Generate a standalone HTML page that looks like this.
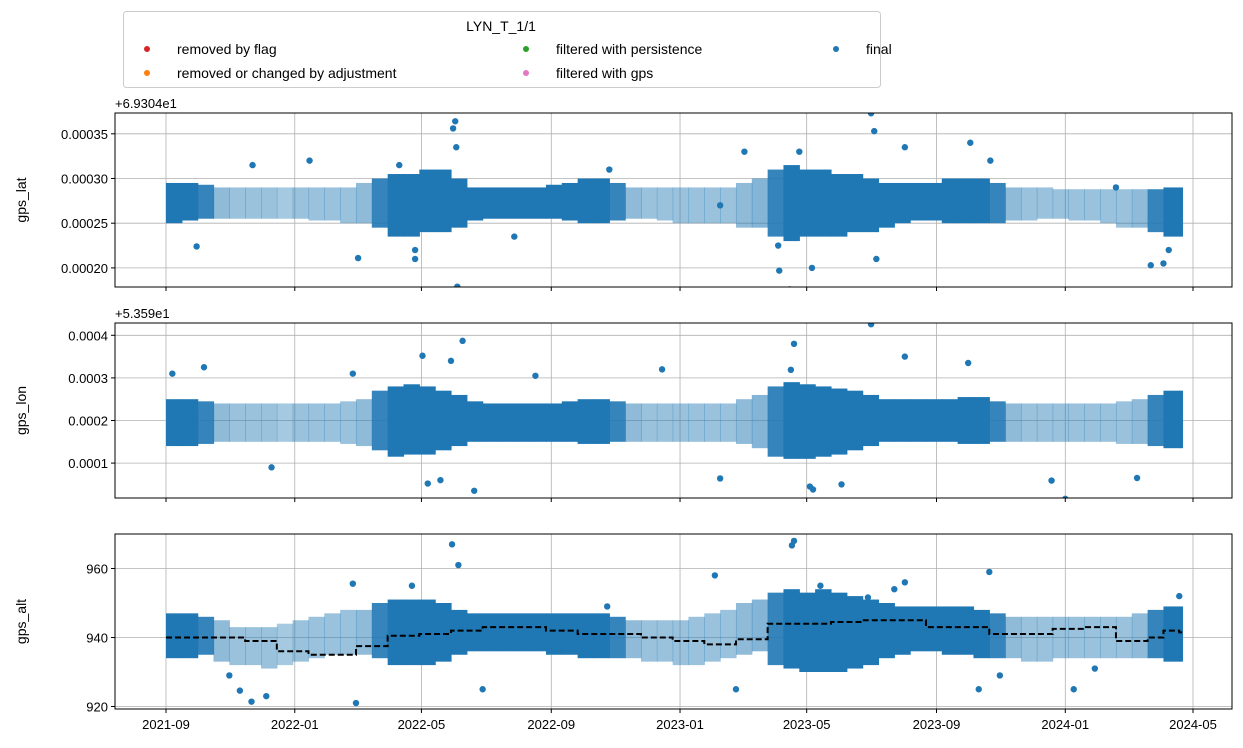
<!DOCTYPE html>
<html><head><meta charset="utf-8"><style>
body{margin:0;background:#fff;}
svg{display:block;font-family:"Liberation Sans","DejaVu Sans",sans-serif;}
</style></head><body>
<svg id="chart" width="1243" height="748" viewBox="0 0 1243 748" xmlns="http://www.w3.org/2000/svg">
<g id="legend">
<rect x="123.5" y="11.5" width="757" height="76" rx="3" fill="#fff" stroke="#ccc"/>
<text x="501" y="31" font-size="14" text-anchor="middle">LYN_T_1/1</text>
<g><circle cx="147" cy="49" r="3" fill="#d62728"/><text x="177" y="54" font-size="14">removed by flag</text></g>
<g><circle cx="147" cy="73" r="3" fill="#ff7f0e"/><text x="177" y="78" font-size="14">removed or changed by adjustment</text></g>
<g><circle cx="526" cy="49" r="3" fill="#2ca02c"/><text x="556" y="54" font-size="14">filtered with persistence</text></g>
<g><circle cx="526" cy="73" r="3" fill="#e377c2"/><text x="556" y="78" font-size="14">filtered with gps</text></g>
<g><circle cx="836" cy="49" r="3" fill="#1f77b4"/><text x="866" y="54" font-size="14">final</text></g>
</g>
</svg>
<script>
// ---- data ----
const tickLabels = ["2021-09","2022-01","2022-05","2022-09","2023-01","2023-05","2023-09","2024-01","2024-05"];
const tickDays = [0,122,242,365,487,607,730,852,973];
// 15-day bins starting 2021-09-01
const binDensity = [1,1,0.9,0.5,0.45,0.45,0.45,0.4,0.45,0.45,0.45,0.45,0.5,0.9,1,1,1,1,1,1,1,1,1,1,1,1,1,1,0.9,0.5,0.45,0.45,0.45,0.45,0.45,0.45,0.5,0.55,0.9,1,1,1,1,1,1,1,1,1,1,1,1,1,0.9,0.5,0.45,0.45,0.45,0.45,0.45,0.45,0.45,0.5,0.9,1,1];
const latLo = [25,25.3,25.5,25.5,25.5,25.5,25.5,25.5,25.5,25.3,25.3,25,25,24.5,23.5,23.5,24,24,24.5,25.3,25.5,25.5,25.5,25.5,25.5,25.3,25,25,25.3,25.5,25.5,25.3,25,25,25,25,24.5,24.5,23.5,23,23.5,23.5,23.5,24,24,24.5,25,25.3,25.3,25,25,25,25,25.3,25.3,25.5,25.5,25.3,25.3,25,24.5,24.5,24,23.5,23.5];
const latHi = [29.5,29.5,29.3,29,29,29,29,29,29,29,29,29,29.5,30,30.5,30.5,31,31,30,29,29,29,29,29,29.3,29.5,30,30,29.5,29,29,29,29,29,29,29,29.5,30,31,31.5,31,31,30.5,30.5,30,29.5,29.5,29.5,29.5,30,30,30,29.5,29,29,29,28.8,28.8,28.8,28.8,28.8,28.8,28.8,29,29];
const lonLo = [14,14,14.5,15,15,15,15,15,15,15,15,14.5,14,13,11.5,12,12,13,14,15,15,15,15,15,15,15,14.5,14.5,15,15,15,15,15,15,15,15,14.5,13.5,11.5,11,11,11.5,12,13,14,15,15,15,15,15,14.5,14.5,15,15,15,15,15,15,15,15,14.5,14.5,14,13.5,13.5];
const lonHi = [25,25,24.5,24,24,24,24,24,24,24,24,24.5,25,27,28,28.5,28,27,26,24.5,24,24,24,24,24,24.5,25,25,24.5,24,24,24,24,24,24,24,25,26,28,29,28.5,28,27.5,27,26,25,25,25,25,25,25.5,25.5,24.5,24,24,24,24,24,24,24,24.5,25,26,27,27];
const altLo = [934,934,935,933,932,932,931,932,933,934,935,935,935,934,932,932,932,933,935,936,936,936,936,936,935,935,934,934,934,934,933,933,932,932,933,934,935,936,932,931,930,930,930,931,932,934,935,936,936,935,935,934,934,934,933,933,934,934,934,934,934,934,934,933,933];
const altHi = [947,947,946,945,943,943,943,944,945,946,947,948,948,950,951,951,951,950,948,947,947,947,947,947,947,947,947,947,946,945,945,945,945,946,947,948,950,951,953,954,953,954,953,952,951,950,949,949,949,949,949,948,947,946,946,946,946,946,946,946,946,947,948,949,949];
const altMedian = [940,940,940,940,940,939,939,936,936,935,935,935,937.5,937.5,940.5,940.5,941,941,942,942,943,943,943,943,942,942,941,941,941,941,940,940,939,939,938,938,939.5,939.5,944,944,944,944,944.5,944.5,945,945,945,945,943,943,943,943,941,941,941,941,942.5,942.5,943,943,939,939,940,942,941.5];
const latOutDays = [29,182,274,272,275,276,236,136,525,580,581,591,668,671,762,781,933,673,221,236,600,612,700,900,945,950,82,330,420,548];
const latOutVals = [22.4,21.1,36.4,35.6,33.5,17.9,21,32,27,22.5,19.7,17.6,37.3,35.3,34,32,20.3,21,31.5,22,33,20,33.5,29,20.5,22,31.5,23.5,31,33];
const lonOutDays = [243,281,292,595,592,668,852,613,248,36,6,839,177,525,270,260,610,700,760,920,470,100,350,640];
const lonOutVals = [35.2,38.7,3.5,38,31.9,42.6,1.6,3.8,5.2,32.5,31,5.9,31,6.4,34,6,4.5,35,33.5,6.5,32,9,30.5,5];
const altOutDays = [271,277,595,593,81,95,177,70,665,620,690,700,520,540,233,300,418,780,790,880,860,770,60,180,960];
const altOutVals = [967,961,968,966.7,921.4,923,955.6,924.6,951.6,955,954,956,958,925,955,925,949,959,929,931,925,925,929,921,952];
// ---- layout ----
const X0 = 166, XPD = 1027/973, BIN = 15;
const xs = d => X0 + d*XPD;
const panels = [
 {name:"gps-lat", label:"gps_lat", offset:"+6.9304e1", top:113, bot:287, yv0:30, yp0:178.5, ppu:44.7/5,
  ticks:[20,25,30,35], tlabel:["0.00020","0.00025","0.00030","0.00035"], lo:latLo, hi:latHi, od:latOutDays, ov:latOutVals, xlab:false},
 {name:"gps-lon", label:"gps_lon", offset:"+5.359e1", top:323, bot:498, yv0:20, yp0:420.5, ppu:42.6/10,
  ticks:[10,20,30,40], tlabel:["0.0001","0.0002","0.0003","0.0004"], lo:lonLo, hi:lonHi, od:lonOutDays, ov:lonOutVals, xlab:false},
 {name:"gps-alt", label:"gps_alt", offset:null, top:534, bot:709, yv0:940, yp0:637.5, ppu:69/20,
  ticks:[920,940,960], tlabel:["920","940","960"], lo:altLo, hi:altHi, od:altOutDays, ov:altOutVals, xlab:true, med:altMedian}
];
const NS="http://www.w3.org/2000/svg";
const svg=document.getElementById('chart');
function mk(tag, attrs, parent){const e=document.createElementNS(NS,tag);for(const k in attrs)e.setAttribute(k,attrs[k]);(parent||svg).appendChild(e);return e;}
const L=115, R=1232, C="#1f77b4";
panels.forEach(p=>{
 const ys = v => p.yp0 - (v-p.yv0)*p.ppu;
 const g=mk('g',{});
 
 
 const cid='clip-'+p.name;
 const cp=mk('clipPath',{id:cid},g); mk('rect',{x:L,y:p.top,width:R-L,height:p.bot-p.top},cp);
 tickDays.forEach(d=>{const l=mk('line',{x1:xs(d),x2:xs(d),y1:p.top,y2:p.bot,stroke:"#b0b0b0","stroke-width":0.8},g);
  });
 p.ticks.forEach((t,i)=>{const y=ys(t);
  const l=mk('line',{x1:L,x2:R,y1:y,y2:y,stroke:"#b0b0b0","stroke-width":0.8},g);
  
  mk('line',{x1:L-4,x2:L,y1:y,y2:y,stroke:"#000"},g);
  const t2=mk('text',{x:L-7,y:y+5,'font-size':13,'text-anchor':'end'},g); t2.textContent=p.tlabel[i];
  
 });
 const dg=mk('g',{'clip-path':'url(#'+cid+')'},g);
 
 
 p.lo.forEach((lo,i)=>{
  const d0=i*BIN, d1=Math.min(963,(i+1)*BIN);
  if(d1<=d0) return;
  const r=mk('rect',{x:xs(d0),y:ys(p.hi[i]),width:xs(d1)-xs(d0)+0.6,height:ys(lo)-ys(p.hi[i]),fill:C,'fill-opacity':binDensity[i]},dg);
  
 });
 p.od.forEach((d,i)=>{
  const c=mk('circle',{cx:xs(d),cy:ys(p.ov[i]),r:3.2,fill:C},dg);
  
 });
 if(p.med){
  let dd="";
  p.med.forEach((v,i)=>{const x0=xs(i*BIN), x1=xs(Math.min(963,(i+1)*BIN));dd+=(i?"L":"M")+x0+","+ys(v)+"L"+x1+","+ys(v);});
  const pl=mk('path',{d:dd,fill:"none",stroke:"#000","stroke-width":2,"stroke-dasharray":"6,3"},dg);
  
 }
 const fr=mk('rect',{x:L,y:p.top,width:R-L,height:p.bot-p.top,fill:"none",stroke:"#000","stroke-width":1},g);
 
 tickDays.forEach((d,i)=>{mk('line',{x1:xs(d),x2:xs(d),y1:p.bot,y2:p.bot+4,stroke:"#000"},g);
  if(p.xlab){const t=mk('text',{x:xs(d),y:p.bot+20,'font-size':13,'text-anchor':'middle'},g);t.textContent=tickLabels[i];
   }});
 const yl=mk('text',{x:0,y:0,'font-size':14,'text-anchor':'middle',transform:`translate(26,${(p.top+p.bot)/2}) rotate(-90)`},g);
 yl.textContent=p.label;
 
 if(p.offset){const o=mk('text',{x:L,y:p.top-5,'font-size':13},g);o.textContent=p.offset;
  }
});
</script>
</body></html>
